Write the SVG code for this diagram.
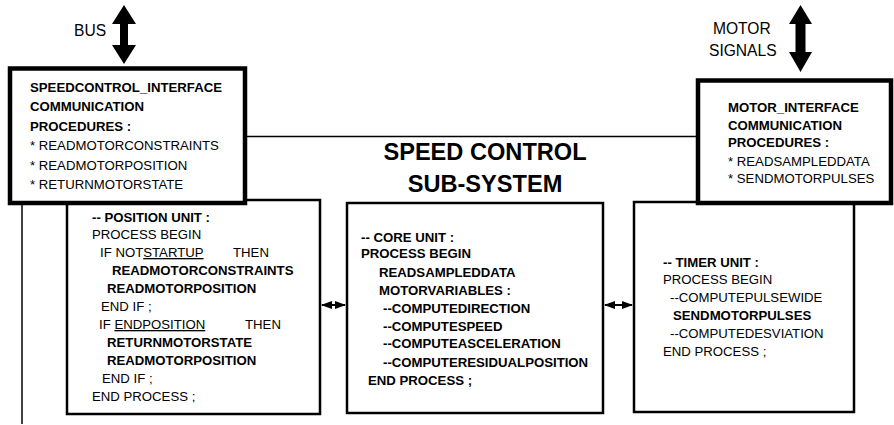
<svg xmlns="http://www.w3.org/2000/svg" width="894" height="425" viewBox="0 0 894 425">
<style>
text{font-family:"Liberation Sans",Arial,sans-serif;font-size:13.2px;fill:#000}
.b{font-weight:bold}
.lbl{font-size:15.6px}
.t{font-size:23.6px;font-weight:bold;text-anchor:middle}
.unit{fill:#fff;stroke:#000;stroke-width:2.5}
.iface{fill:#fff;stroke:#000;stroke-width:4.5}
.frame{stroke:#000;stroke-width:1.5;fill:none}
.big{fill:#000}
.conn{stroke:#000;stroke-width:2;marker-start:url(#ah);marker-end:url(#ah)}
</style>
<defs>
<marker id="ah" viewBox="0 0 11 8" refX="10" refY="4" markerWidth="11" markerHeight="8" markerUnits="userSpaceOnUse" orient="auto-start-reverse">
<path d="M0,0 L11,4 L0,8 Z" fill="#000"/>
</marker>
</defs>
<g id="frame">
<line class="frame" x1="245" y1="136.5" x2="698" y2="136.5"/>
<line class="frame" x1="22" y1="203" x2="22" y2="424"/>
<text class="t" x="485" y="160">SPEED CONTROL</text>
<text class="t" x="485" y="191.5">SUB-SYSTEM</text>
</g>
<g id="position-unit">
<rect class="unit" x="67" y="200" width="253" height="214"/>
<text class="b" x="92" y="221.5">-- POSITION UNIT :</text>
<text x="92" y="239">PROCESS BEGIN</text>
<text x="100" y="257">IF NOT<tspan text-decoration="underline">STARTUP</tspan></text>
<text x="233" y="257">THEN</text>
<text class="b" x="112" y="275">READMOTORCONSTRAINTS</text>
<text class="b" x="107" y="293">READMOTORPOSITION</text>
<text x="101" y="311">END IF ;</text>
<text x="99" y="329"><tspan>IF </tspan><tspan text-decoration="underline">ENDPOSITION</tspan></text>
<text x="245" y="329">THEN</text>
<text class="b" x="107" y="347">RETURNMOTORSTATE</text>
<text class="b" x="107" y="365">READMOTORPOSITION</text>
<text x="102" y="382.5">END IF ;</text>
<text x="92" y="400.5">END PROCESS ;</text>
</g>
<g id="core-unit">
<rect class="unit" x="347" y="203" width="256" height="210"/>
<text class="b" x="361" y="241.5">-- CORE UNIT :</text>
<text class="b" x="361" y="258">PROCESS BEGIN</text>
<text class="b" x="379" y="276.5">READSAMPLEDDATA</text>
<text class="b" x="379" y="294.5">MOTORVARIABLES :</text>
<text class="b" x="383" y="312.5">--COMPUTEDIRECTION</text>
<text class="b" x="383" y="330.5">--COMPUTESPEED</text>
<text class="b" x="383" y="348">--COMPUTEASCELERATION</text>
<text class="b" x="383" y="366.5">--COMPUTERESIDUALPOSITION</text>
<text class="b" x="368" y="384.5">END PROCESS ;</text>
</g>
<g id="timer-unit">
<rect class="unit" x="634" y="202" width="220" height="210"/>
<text class="b" x="663" y="266.5">-- TIMER UNIT :</text>
<text x="663" y="283.5">PROCESS BEGIN</text>
<text x="670" y="301.5">--COMPUTEPULSEWIDE</text>
<text class="b" x="673" y="319.5">SENDMOTORPULSES</text>
<text x="670" y="337.5">--COMPUTEDESVIATION</text>
<text x="663" y="356">END PROCESS ;</text>
</g>
<g id="speedcontrol-interface">
<rect class="iface" x="10" y="68.5" width="235" height="134.5"/>
<text class="b" x="30" y="91.5">SPEEDCONTROL_INTERFACE</text>
<text class="b" x="30" y="111">COMMUNICATION</text>
<text class="b" x="30" y="130.5">PROCEDURES :</text>
<text x="30" y="150">* READMOTORCONSTRAINTS</text>
<text x="30" y="169.5">* READMOTORPOSITION</text>
<text x="30" y="188.5">* RETURNMOTORSTATE</text>
</g>
<g id="motor-interface">
<rect class="iface" x="698" y="80.5" width="193" height="122.5"/>
<text class="b" x="728" y="112">MOTOR_INTERFACE</text>
<text class="b" x="728" y="129.5">COMMUNICATION</text>
<text class="b" x="728" y="147">PROCEDURES :</text>
<text x="728" y="166">* READSAMPLEDDATA</text>
<text x="728" y="183">* SENDMOTORPULSES</text>
</g>
<g id="bus">
<text class="lbl" x="74" y="36">BUS</text>
</g>
<g id="motor-signals">
<text class="lbl" x="713" y="34">MOTOR</text>
<text class="lbl" x="709" y="56">SIGNALS</text>
</g>
<g id="connectors">
<polygon class="big" points="124,5 136,24 128,24 128,45 136,45 124,64 112,45 120,45 120,24 112,24"/>
<polygon class="big" points="800.5,5 812,24 805.5,24 805.5,52 812,52 800.5,72 789,52 795.5,52 795.5,24 789,24"/>
<line class="conn" x1="322" y1="305" x2="345" y2="305"/>
<line class="conn" x1="605" y1="305" x2="632" y2="305"/>
</g>
</svg>
